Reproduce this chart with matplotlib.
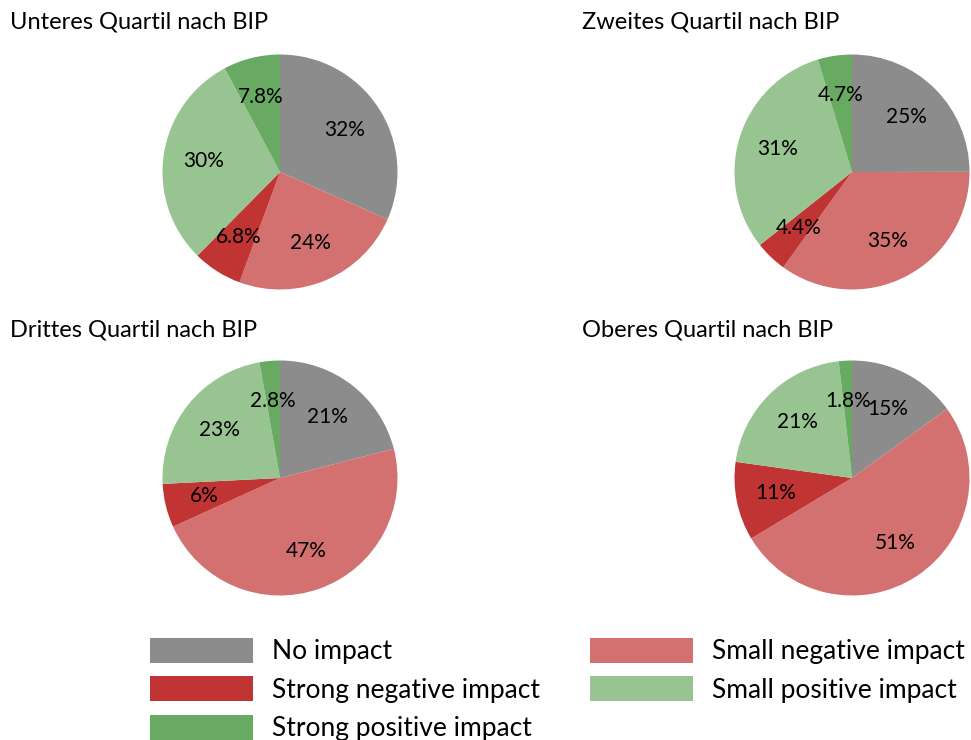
import matplotlib
matplotlib.use("Agg")
import matplotlib.pyplot as plt
from matplotlib.patches import Patch

plt.rcParams['font.family'] = ['Lato', 'DejaVu Sans']

# categories in pie order (clockwise from 12 o'clock)
categories = ["No impact", "Small negative impact", "Strong negative impact",
              "Small positive impact", "Strong positive impact"]
colors = ["#8c8c8c", "#d37171", "#c03434", "#98c491", "#68aa62"]

titles = ["Unteres Quartil nach BIP", "Zweites Quartil nach BIP",
          "Drittes Quartil nach BIP", "Oberes Quartil nach BIP"]

# shares in percent, per quartile
q1_values = [31.6, 24.0, 6.8, 29.8, 7.8]
q2_values = [25.0, 35.0, 4.4, 31.0, 4.7]
q3_values = [21.0, 47.2, 6.0, 23.0, 2.8]
q4_values = [15.0, 51.4, 10.8, 21.0, 1.8]
all_values = [q1_values, q2_values, q3_values, q4_values]

W, H = 971, 740
fig = plt.figure(figsize=(W / 100, H / 100), dpi=100)

# pixel layout: pie centres, radius, title anchors
centers = [(280, 172), (852, 172), (280, 478), (852, 478)]
title_pos = [(10, 22), (582, 22), (10, 330), (582, 330)]
r = 117.5

for vals, title, (cx, cy), (tx, ty) in zip(all_values, titles, centers, title_pos):
    ax = fig.add_axes([(cx - r) / W, (H - cy - r) / H, 2 * r / W, 2 * r / H])
    ax.pie(vals, colors=colors, startangle=90, counterclock=False,
           autopct=lambda p: f"{p:.2g}%", pctdistance=0.66,
           textprops=dict(fontsize=15, color="black"))
    ax.set_xlim(-1, 1)
    ax.set_ylim(-1, 1)
    ax.set_aspect("equal")
    fig.text(tx / W, 1 - ty / H, title, fontsize=17, ha="left", va="center")

# legend, column-wise fill
order = [0, 2, 4, 1, 3]
handles = [Patch(facecolor=colors[i], edgecolor="none", label=categories[i]) for i in order]
fig.legend(handles=handles, loc="upper left", bbox_to_anchor=(150 / W, 1 - 638 / H),
           ncol=2, frameon=False, fontsize=19, handlelength=3.9, handleheight=1.06,
           handletextpad=0.72, columnspacing=1.9, labelspacing=0.46, borderpad=0,
           borderaxespad=0)

fig.savefig("out.png", dpi=100)
